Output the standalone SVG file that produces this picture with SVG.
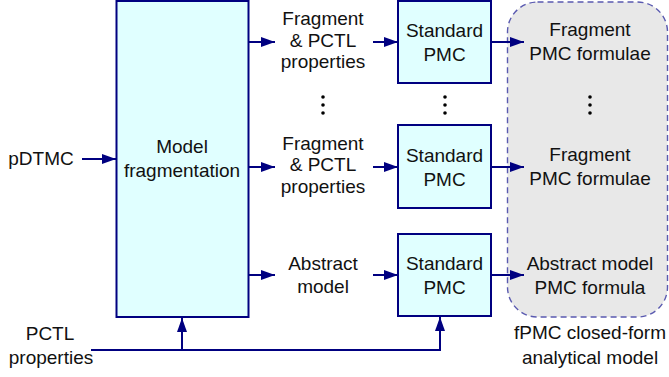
<svg xmlns="http://www.w3.org/2000/svg" width="669" height="377" viewBox="0 0 669 377">
<defs>
<marker id="arr" viewBox="0 0 14 10" refX="14" refY="5" markerWidth="14" markerHeight="10" markerUnits="userSpaceOnUse" orient="auto">
<path d="M0,0 L14,5 L0,10 Z" fill="#000080"/>
</marker>
</defs>
<style>
text{font-family:"Liberation Sans","DejaVu Sans",sans-serif;font-size:19px;fill:#111;text-anchor:middle}
.box{fill:#e0ffff;stroke:#000080;stroke-width:2}
.ln{fill:none;stroke:#000080;stroke-width:2}
.dot{fill:#000}
</style>
<rect id="region" x="507.5" y="2" width="160" height="315" rx="30" ry="30" fill="#e8e8e8" stroke="#5a5ab0" stroke-width="1.4" stroke-dasharray="6,4"/>
<g id="frag">
<rect class="box" x="116.5" y="1" width="132" height="316"/>
<text x="182" y="153">Model</text>
<text x="182" y="177">fragmentation</text>
</g>
<g id="pmc1">
<rect class="box" x="398" y="1" width="93" height="82"/>
<text x="444.5" y="37">Standard</text>
<text x="444.5" y="61">PMC</text>
</g>
<g id="pmc2">
<rect class="box" x="398" y="125" width="93" height="83"/>
<text x="444.5" y="162">Standard</text>
<text x="444.5" y="186">PMC</text>
</g>
<g id="pmc3">
<rect class="box" x="398" y="234" width="93" height="82"/>
<text x="444.5" y="270">Standard</text>
<text x="444.5" y="294">PMC</text>
</g>
<g id="labels">
<text x="41" y="165">pDTMC</text>
<text x="50" y="340">PCTL</text>
<text x="51" y="364">properties</text>
<text x="323" y="25">Fragment</text>
<text x="323" y="47">&amp; PCTL</text>
<text x="323" y="68">properties</text>
<text x="323" y="150">Fragment</text>
<text x="323" y="171">&amp; PCTL</text>
<text x="323" y="193">properties</text>
<text x="323" y="270">Abstract</text>
<text x="323" y="293">model</text>
<text x="590" y="36">Fragment</text>
<text x="590" y="60">PMC formulae</text>
<text x="590" y="161">Fragment</text>
<text x="590" y="185">PMC formulae</text>
<text x="590" y="270">Abstract model</text>
<text x="590" y="294">PMC formula</text>
<text x="590" y="339">fPMC closed-form</text>
<text x="590" y="364">analytical model</text>
</g>
<g id="dots">
<circle class="dot" cx="323" cy="97" r="1.8"/><circle class="dot" cx="323" cy="105" r="1.8"/><circle class="dot" cx="323" cy="113" r="1.8"/>
<circle class="dot" cx="445" cy="97" r="1.8"/><circle class="dot" cx="445" cy="105" r="1.8"/><circle class="dot" cx="445" cy="113" r="1.8"/>
<circle class="dot" cx="590" cy="97" r="1.8"/><circle class="dot" cx="590" cy="105" r="1.8"/><circle class="dot" cx="590" cy="113" r="1.8"/>
</g>
<g id="connectors">
<line class="ln" x1="82" y1="159" x2="116" y2="159" marker-end="url(#arr)"/>
<line class="ln" x1="249" y1="42" x2="275" y2="42" marker-end="url(#arr)"/>
<line class="ln" x1="249" y1="167" x2="275" y2="167" marker-end="url(#arr)"/>
<line class="ln" x1="249" y1="275" x2="275" y2="275" marker-end="url(#arr)"/>
<line class="ln" x1="373" y1="42" x2="398" y2="42" marker-end="url(#arr)"/>
<line class="ln" x1="373" y1="167" x2="398" y2="167" marker-end="url(#arr)"/>
<line class="ln" x1="373" y1="275" x2="398" y2="275" marker-end="url(#arr)"/>
<line class="ln" x1="491" y1="42" x2="524" y2="42" marker-end="url(#arr)"/>
<line class="ln" x1="491" y1="167" x2="524" y2="167" marker-end="url(#arr)"/>
<line class="ln" x1="491" y1="275" x2="524" y2="275" marker-end="url(#arr)"/>
<path class="ln" d="M91,350 H440 V317" marker-end="url(#arr)"/>
<line class="ln" x1="182" y1="350" x2="182" y2="318" marker-end="url(#arr)"/>
</g>
</svg>
